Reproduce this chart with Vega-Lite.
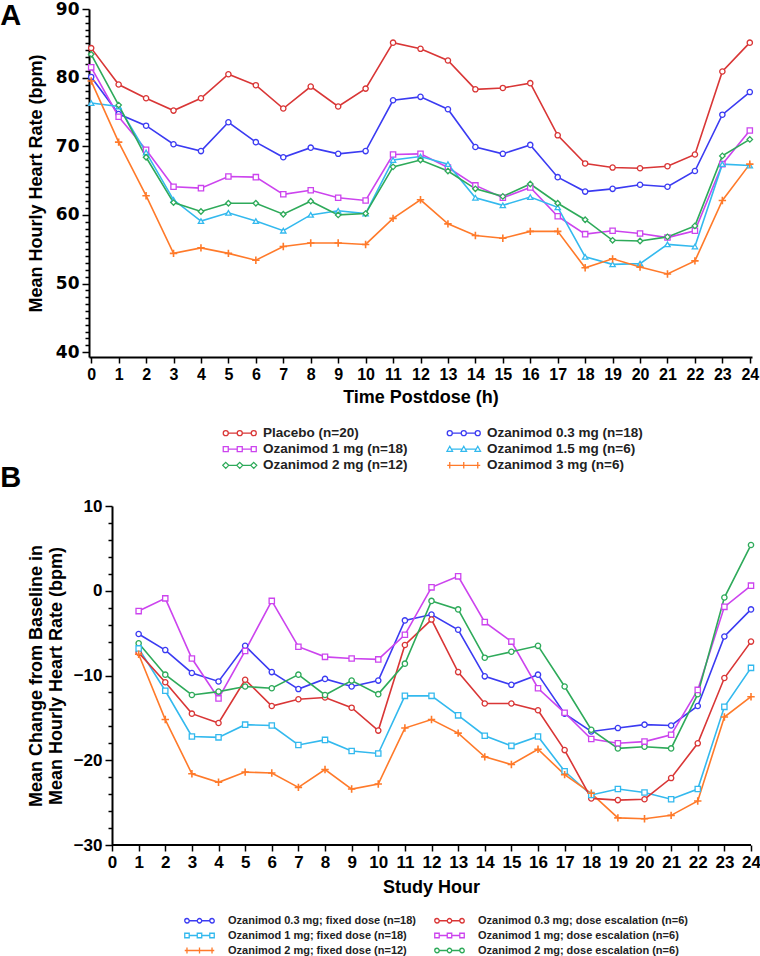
{
"$schema": "https://vega.github.io/schema/vega-lite/v6.json",
"padding": 0,
"background": "white",
"config": {"view": {"stroke": null}, "axis": {"grid": false, "domainColor": "black", "domainWidth": 2, "tickColor": "black", "tickWidth": 1.5, "labelColor": "black", "titleColor": "black", "labelFont": "Liberation Sans", "titleFont": "Liberation Sans", "labelFontWeight": "bold", "titleFontWeight": "bold"}},
"spacing": -8,
"resolve": {"scale": {"stroke": "independent", "x": "independent", "y": "independent"}, "legend": {"stroke": "independent"}},
"datasets": {
"a": [
{"s":"Placebo (n=20)","h":0,"v":84.3},{"s":"Placebo (n=20)","h":1,"v":79.0},{"s":"Placebo (n=20)","h":2,"v":77.0},{"s":"Placebo (n=20)","h":3,"v":75.2},{"s":"Placebo (n=20)","h":4,"v":77.0},{"s":"Placebo (n=20)","h":5,"v":80.5},{"s":"Placebo (n=20)","h":6,"v":78.9},{"s":"Placebo (n=20)","h":7,"v":75.5},{"s":"Placebo (n=20)","h":8,"v":78.7},{"s":"Placebo (n=20)","h":9,"v":75.8},{"s":"Placebo (n=20)","h":10,"v":78.4},{"s":"Placebo (n=20)","h":11,"v":85.1},{"s":"Placebo (n=20)","h":12,"v":84.2},{"s":"Placebo (n=20)","h":13,"v":82.5},{"s":"Placebo (n=20)","h":14,"v":78.3},{"s":"Placebo (n=20)","h":15,"v":78.5},{"s":"Placebo (n=20)","h":16,"v":79.2},{"s":"Placebo (n=20)","h":17,"v":71.6},{"s":"Placebo (n=20)","h":18,"v":67.5},{"s":"Placebo (n=20)","h":19,"v":66.9},{"s":"Placebo (n=20)","h":20,"v":66.8},{"s":"Placebo (n=20)","h":21,"v":67.1},{"s":"Placebo (n=20)","h":22,"v":68.8},{"s":"Placebo (n=20)","h":23,"v":80.9},{"s":"Placebo (n=20)","h":24,"v":85.1},
{"s":"Ozanimod 0.3 mg (n=18)","h":0,"v":80.1},{"s":"Ozanimod 0.3 mg (n=18)","h":1,"v":74.7},{"s":"Ozanimod 0.3 mg (n=18)","h":2,"v":73.0},{"s":"Ozanimod 0.3 mg (n=18)","h":3,"v":70.3},{"s":"Ozanimod 0.3 mg (n=18)","h":4,"v":69.3},{"s":"Ozanimod 0.3 mg (n=18)","h":5,"v":73.5},{"s":"Ozanimod 0.3 mg (n=18)","h":6,"v":70.6},{"s":"Ozanimod 0.3 mg (n=18)","h":7,"v":68.4},{"s":"Ozanimod 0.3 mg (n=18)","h":8,"v":69.8},{"s":"Ozanimod 0.3 mg (n=18)","h":9,"v":68.9},{"s":"Ozanimod 0.3 mg (n=18)","h":10,"v":69.3},{"s":"Ozanimod 0.3 mg (n=18)","h":11,"v":76.7},{"s":"Ozanimod 0.3 mg (n=18)","h":12,"v":77.2},{"s":"Ozanimod 0.3 mg (n=18)","h":13,"v":75.4},{"s":"Ozanimod 0.3 mg (n=18)","h":14,"v":69.9},{"s":"Ozanimod 0.3 mg (n=18)","h":15,"v":68.9},{"s":"Ozanimod 0.3 mg (n=18)","h":16,"v":70.2},{"s":"Ozanimod 0.3 mg (n=18)","h":17,"v":65.5},{"s":"Ozanimod 0.3 mg (n=18)","h":18,"v":63.4},{"s":"Ozanimod 0.3 mg (n=18)","h":19,"v":63.8},{"s":"Ozanimod 0.3 mg (n=18)","h":20,"v":64.4},{"s":"Ozanimod 0.3 mg (n=18)","h":21,"v":64.1},{"s":"Ozanimod 0.3 mg (n=18)","h":22,"v":66.4},{"s":"Ozanimod 0.3 mg (n=18)","h":23,"v":74.6},{"s":"Ozanimod 0.3 mg (n=18)","h":24,"v":77.9},
{"s":"Ozanimod 1 mg (n=18)","h":0,"v":81.5},{"s":"Ozanimod 1 mg (n=18)","h":1,"v":74.3},{"s":"Ozanimod 1 mg (n=18)","h":2,"v":69.5},{"s":"Ozanimod 1 mg (n=18)","h":3,"v":64.1},{"s":"Ozanimod 1 mg (n=18)","h":4,"v":63.9},{"s":"Ozanimod 1 mg (n=18)","h":5,"v":65.6},{"s":"Ozanimod 1 mg (n=18)","h":6,"v":65.5},{"s":"Ozanimod 1 mg (n=18)","h":7,"v":63.0},{"s":"Ozanimod 1 mg (n=18)","h":8,"v":63.6},{"s":"Ozanimod 1 mg (n=18)","h":9,"v":62.5},{"s":"Ozanimod 1 mg (n=18)","h":10,"v":62.1},{"s":"Ozanimod 1 mg (n=18)","h":11,"v":68.8},{"s":"Ozanimod 1 mg (n=18)","h":12,"v":68.9},{"s":"Ozanimod 1 mg (n=18)","h":13,"v":66.9},{"s":"Ozanimod 1 mg (n=18)","h":14,"v":64.3},{"s":"Ozanimod 1 mg (n=18)","h":15,"v":62.5},{"s":"Ozanimod 1 mg (n=18)","h":16,"v":64.0},{"s":"Ozanimod 1 mg (n=18)","h":17,"v":59.8},{"s":"Ozanimod 1 mg (n=18)","h":18,"v":57.2},{"s":"Ozanimod 1 mg (n=18)","h":19,"v":57.7},{"s":"Ozanimod 1 mg (n=18)","h":20,"v":57.3},{"s":"Ozanimod 1 mg (n=18)","h":21,"v":56.7},{"s":"Ozanimod 1 mg (n=18)","h":22,"v":57.7},{"s":"Ozanimod 1 mg (n=18)","h":23,"v":67.4},{"s":"Ozanimod 1 mg (n=18)","h":24,"v":72.3},
{"s":"Ozanimod 1.5 mg (n=6)","h":0,"v":76.3},{"s":"Ozanimod 1.5 mg (n=6)","h":1,"v":75.8},{"s":"Ozanimod 1.5 mg (n=6)","h":2,"v":69.1},{"s":"Ozanimod 1.5 mg (n=6)","h":3,"v":62.2},{"s":"Ozanimod 1.5 mg (n=6)","h":4,"v":59.1},{"s":"Ozanimod 1.5 mg (n=6)","h":5,"v":60.3},{"s":"Ozanimod 1.5 mg (n=6)","h":6,"v":59.1},{"s":"Ozanimod 1.5 mg (n=6)","h":7,"v":57.7},{"s":"Ozanimod 1.5 mg (n=6)","h":8,"v":60.0},{"s":"Ozanimod 1.5 mg (n=6)","h":9,"v":60.6},{"s":"Ozanimod 1.5 mg (n=6)","h":10,"v":60.2},{"s":"Ozanimod 1.5 mg (n=6)","h":11,"v":68.0},{"s":"Ozanimod 1.5 mg (n=6)","h":12,"v":68.5},{"s":"Ozanimod 1.5 mg (n=6)","h":13,"v":67.4},{"s":"Ozanimod 1.5 mg (n=6)","h":14,"v":62.5},{"s":"Ozanimod 1.5 mg (n=6)","h":15,"v":61.4},{"s":"Ozanimod 1.5 mg (n=6)","h":16,"v":62.6},{"s":"Ozanimod 1.5 mg (n=6)","h":17,"v":61.1},{"s":"Ozanimod 1.5 mg (n=6)","h":18,"v":53.9},{"s":"Ozanimod 1.5 mg (n=6)","h":19,"v":52.8},{"s":"Ozanimod 1.5 mg (n=6)","h":20,"v":52.9},{"s":"Ozanimod 1.5 mg (n=6)","h":21,"v":55.7},{"s":"Ozanimod 1.5 mg (n=6)","h":22,"v":55.4},{"s":"Ozanimod 1.5 mg (n=6)","h":23,"v":67.4},{"s":"Ozanimod 1.5 mg (n=6)","h":24,"v":67.2},
{"s":"Ozanimod 2 mg (n=12)","h":0,"v":83.4},{"s":"Ozanimod 2 mg (n=12)","h":1,"v":76.0},{"s":"Ozanimod 2 mg (n=12)","h":2,"v":68.4},{"s":"Ozanimod 2 mg (n=12)","h":3,"v":61.8},{"s":"Ozanimod 2 mg (n=12)","h":4,"v":60.5},{"s":"Ozanimod 2 mg (n=12)","h":5,"v":61.7},{"s":"Ozanimod 2 mg (n=12)","h":6,"v":61.7},{"s":"Ozanimod 2 mg (n=12)","h":7,"v":60.1},{"s":"Ozanimod 2 mg (n=12)","h":8,"v":62.0},{"s":"Ozanimod 2 mg (n=12)","h":9,"v":60.0},{"s":"Ozanimod 2 mg (n=12)","h":10,"v":60.2},{"s":"Ozanimod 2 mg (n=12)","h":11,"v":67.0},{"s":"Ozanimod 2 mg (n=12)","h":12,"v":68.0},{"s":"Ozanimod 2 mg (n=12)","h":13,"v":66.4},{"s":"Ozanimod 2 mg (n=12)","h":14,"v":63.8},{"s":"Ozanimod 2 mg (n=12)","h":15,"v":62.7},{"s":"Ozanimod 2 mg (n=12)","h":16,"v":64.5},{"s":"Ozanimod 2 mg (n=12)","h":17,"v":61.7},{"s":"Ozanimod 2 mg (n=12)","h":18,"v":59.3},{"s":"Ozanimod 2 mg (n=12)","h":19,"v":56.3},{"s":"Ozanimod 2 mg (n=12)","h":20,"v":56.2},{"s":"Ozanimod 2 mg (n=12)","h":21,"v":56.8},{"s":"Ozanimod 2 mg (n=12)","h":22,"v":58.4},{"s":"Ozanimod 2 mg (n=12)","h":23,"v":68.6},{"s":"Ozanimod 2 mg (n=12)","h":24,"v":71.0},
{"s":"Ozanimod 3 mg (n=6)","h":0,"v":79.5},{"s":"Ozanimod 3 mg (n=6)","h":1,"v":70.6},{"s":"Ozanimod 3 mg (n=6)","h":2,"v":62.8},{"s":"Ozanimod 3 mg (n=6)","h":3,"v":54.4},{"s":"Ozanimod 3 mg (n=6)","h":4,"v":55.2},{"s":"Ozanimod 3 mg (n=6)","h":5,"v":54.4},{"s":"Ozanimod 3 mg (n=6)","h":6,"v":53.4},{"s":"Ozanimod 3 mg (n=6)","h":7,"v":55.4},{"s":"Ozanimod 3 mg (n=6)","h":8,"v":55.9},{"s":"Ozanimod 3 mg (n=6)","h":9,"v":55.9},{"s":"Ozanimod 3 mg (n=6)","h":10,"v":55.7},{"s":"Ozanimod 3 mg (n=6)","h":11,"v":59.5},{"s":"Ozanimod 3 mg (n=6)","h":12,"v":62.2},{"s":"Ozanimod 3 mg (n=6)","h":13,"v":58.7},{"s":"Ozanimod 3 mg (n=6)","h":14,"v":57.0},{"s":"Ozanimod 3 mg (n=6)","h":15,"v":56.6},{"s":"Ozanimod 3 mg (n=6)","h":16,"v":57.6},{"s":"Ozanimod 3 mg (n=6)","h":17,"v":57.6},{"s":"Ozanimod 3 mg (n=6)","h":18,"v":52.3},{"s":"Ozanimod 3 mg (n=6)","h":19,"v":53.6},{"s":"Ozanimod 3 mg (n=6)","h":20,"v":52.4},{"s":"Ozanimod 3 mg (n=6)","h":21,"v":51.4},{"s":"Ozanimod 3 mg (n=6)","h":22,"v":53.3},{"s":"Ozanimod 3 mg (n=6)","h":23,"v":62.1},{"s":"Ozanimod 3 mg (n=6)","h":24,"v":67.4}
],
"b": [
{"s":"Ozanimod 0.3 mg; fixed dose (n=18)","h":1,"v":-5.1},{"s":"Ozanimod 0.3 mg; fixed dose (n=18)","h":2,"v":-7.0},{"s":"Ozanimod 0.3 mg; fixed dose (n=18)","h":3,"v":-9.7},{"s":"Ozanimod 0.3 mg; fixed dose (n=18)","h":4,"v":-10.7},{"s":"Ozanimod 0.3 mg; fixed dose (n=18)","h":5,"v":-6.5},{"s":"Ozanimod 0.3 mg; fixed dose (n=18)","h":6,"v":-9.6},{"s":"Ozanimod 0.3 mg; fixed dose (n=18)","h":7,"v":-11.6},{"s":"Ozanimod 0.3 mg; fixed dose (n=18)","h":8,"v":-10.4},{"s":"Ozanimod 0.3 mg; fixed dose (n=18)","h":9,"v":-11.3},{"s":"Ozanimod 0.3 mg; fixed dose (n=18)","h":10,"v":-10.6},{"s":"Ozanimod 0.3 mg; fixed dose (n=18)","h":11,"v":-3.5},{"s":"Ozanimod 0.3 mg; fixed dose (n=18)","h":12,"v":-2.8},{"s":"Ozanimod 0.3 mg; fixed dose (n=18)","h":13,"v":-4.6},{"s":"Ozanimod 0.3 mg; fixed dose (n=18)","h":14,"v":-10.1},{"s":"Ozanimod 0.3 mg; fixed dose (n=18)","h":15,"v":-11.1},{"s":"Ozanimod 0.3 mg; fixed dose (n=18)","h":16,"v":-9.9},{"s":"Ozanimod 0.3 mg; fixed dose (n=18)","h":17,"v":-14.5},{"s":"Ozanimod 0.3 mg; fixed dose (n=18)","h":18,"v":-16.6},{"s":"Ozanimod 0.3 mg; fixed dose (n=18)","h":19,"v":-16.2},{"s":"Ozanimod 0.3 mg; fixed dose (n=18)","h":20,"v":-15.8},{"s":"Ozanimod 0.3 mg; fixed dose (n=18)","h":21,"v":-15.9},{"s":"Ozanimod 0.3 mg; fixed dose (n=18)","h":22,"v":-13.6},{"s":"Ozanimod 0.3 mg; fixed dose (n=18)","h":23,"v":-5.4},{"s":"Ozanimod 0.3 mg; fixed dose (n=18)","h":24,"v":-2.2},
{"s":"Ozanimod 1 mg; fixed dose (n=18)","h":1,"v":-6.8},{"s":"Ozanimod 1 mg; fixed dose (n=18)","h":2,"v":-11.8},{"s":"Ozanimod 1 mg; fixed dose (n=18)","h":3,"v":-17.2},{"s":"Ozanimod 1 mg; fixed dose (n=18)","h":4,"v":-17.3},{"s":"Ozanimod 1 mg; fixed dose (n=18)","h":5,"v":-15.8},{"s":"Ozanimod 1 mg; fixed dose (n=18)","h":6,"v":-15.9},{"s":"Ozanimod 1 mg; fixed dose (n=18)","h":7,"v":-18.2},{"s":"Ozanimod 1 mg; fixed dose (n=18)","h":8,"v":-17.6},{"s":"Ozanimod 1 mg; fixed dose (n=18)","h":9,"v":-18.9},{"s":"Ozanimod 1 mg; fixed dose (n=18)","h":10,"v":-19.2},{"s":"Ozanimod 1 mg; fixed dose (n=18)","h":11,"v":-12.4},{"s":"Ozanimod 1 mg; fixed dose (n=18)","h":12,"v":-12.4},{"s":"Ozanimod 1 mg; fixed dose (n=18)","h":13,"v":-14.7},{"s":"Ozanimod 1 mg; fixed dose (n=18)","h":14,"v":-17.1},{"s":"Ozanimod 1 mg; fixed dose (n=18)","h":15,"v":-18.3},{"s":"Ozanimod 1 mg; fixed dose (n=18)","h":16,"v":-17.2},{"s":"Ozanimod 1 mg; fixed dose (n=18)","h":17,"v":-21.3},{"s":"Ozanimod 1 mg; fixed dose (n=18)","h":18,"v":-24.1},{"s":"Ozanimod 1 mg; fixed dose (n=18)","h":19,"v":-23.4},{"s":"Ozanimod 1 mg; fixed dose (n=18)","h":20,"v":-23.8},{"s":"Ozanimod 1 mg; fixed dose (n=18)","h":21,"v":-24.6},{"s":"Ozanimod 1 mg; fixed dose (n=18)","h":22,"v":-23.4},{"s":"Ozanimod 1 mg; fixed dose (n=18)","h":23,"v":-13.7},{"s":"Ozanimod 1 mg; fixed dose (n=18)","h":24,"v":-9.1},
{"s":"Ozanimod 2 mg; fixed dose (n=12)","h":1,"v":-7.5},{"s":"Ozanimod 2 mg; fixed dose (n=12)","h":2,"v":-15.2},{"s":"Ozanimod 2 mg; fixed dose (n=12)","h":3,"v":-21.6},{"s":"Ozanimod 2 mg; fixed dose (n=12)","h":4,"v":-22.6},{"s":"Ozanimod 2 mg; fixed dose (n=12)","h":5,"v":-21.4},{"s":"Ozanimod 2 mg; fixed dose (n=12)","h":6,"v":-21.5},{"s":"Ozanimod 2 mg; fixed dose (n=12)","h":7,"v":-23.2},{"s":"Ozanimod 2 mg; fixed dose (n=12)","h":8,"v":-21.1},{"s":"Ozanimod 2 mg; fixed dose (n=12)","h":9,"v":-23.4},{"s":"Ozanimod 2 mg; fixed dose (n=12)","h":10,"v":-22.8},{"s":"Ozanimod 2 mg; fixed dose (n=12)","h":11,"v":-16.2},{"s":"Ozanimod 2 mg; fixed dose (n=12)","h":12,"v":-15.2},{"s":"Ozanimod 2 mg; fixed dose (n=12)","h":13,"v":-16.8},{"s":"Ozanimod 2 mg; fixed dose (n=12)","h":14,"v":-19.6},{"s":"Ozanimod 2 mg; fixed dose (n=12)","h":15,"v":-20.5},{"s":"Ozanimod 2 mg; fixed dose (n=12)","h":16,"v":-18.7},{"s":"Ozanimod 2 mg; fixed dose (n=12)","h":17,"v":-21.7},{"s":"Ozanimod 2 mg; fixed dose (n=12)","h":18,"v":-23.9},{"s":"Ozanimod 2 mg; fixed dose (n=12)","h":19,"v":-26.8},{"s":"Ozanimod 2 mg; fixed dose (n=12)","h":20,"v":-26.9},{"s":"Ozanimod 2 mg; fixed dose (n=12)","h":21,"v":-26.5},{"s":"Ozanimod 2 mg; fixed dose (n=12)","h":22,"v":-24.8},{"s":"Ozanimod 2 mg; fixed dose (n=12)","h":23,"v":-14.9},{"s":"Ozanimod 2 mg; fixed dose (n=12)","h":24,"v":-12.5},
{"s":"Ozanimod 0.3 mg; dose escalation (n=6)","h":1,"v":-7.3},{"s":"Ozanimod 0.3 mg; dose escalation (n=6)","h":2,"v":-10.8},{"s":"Ozanimod 0.3 mg; dose escalation (n=6)","h":3,"v":-14.5},{"s":"Ozanimod 0.3 mg; dose escalation (n=6)","h":4,"v":-15.6},{"s":"Ozanimod 0.3 mg; dose escalation (n=6)","h":5,"v":-10.5},{"s":"Ozanimod 0.3 mg; dose escalation (n=6)","h":6,"v":-13.6},{"s":"Ozanimod 0.3 mg; dose escalation (n=6)","h":7,"v":-12.8},{"s":"Ozanimod 0.3 mg; dose escalation (n=6)","h":8,"v":-12.6},{"s":"Ozanimod 0.3 mg; dose escalation (n=6)","h":9,"v":-13.8},{"s":"Ozanimod 0.3 mg; dose escalation (n=6)","h":10,"v":-16.5},{"s":"Ozanimod 0.3 mg; dose escalation (n=6)","h":11,"v":-6.4},{"s":"Ozanimod 0.3 mg; dose escalation (n=6)","h":12,"v":-3.4},{"s":"Ozanimod 0.3 mg; dose escalation (n=6)","h":13,"v":-9.6},{"s":"Ozanimod 0.3 mg; dose escalation (n=6)","h":14,"v":-13.3},{"s":"Ozanimod 0.3 mg; dose escalation (n=6)","h":15,"v":-13.3},{"s":"Ozanimod 0.3 mg; dose escalation (n=6)","h":16,"v":-14.1},{"s":"Ozanimod 0.3 mg; dose escalation (n=6)","h":17,"v":-18.8},{"s":"Ozanimod 0.3 mg; dose escalation (n=6)","h":18,"v":-24.5},{"s":"Ozanimod 0.3 mg; dose escalation (n=6)","h":19,"v":-24.7},{"s":"Ozanimod 0.3 mg; dose escalation (n=6)","h":20,"v":-24.6},{"s":"Ozanimod 0.3 mg; dose escalation (n=6)","h":21,"v":-22.1},{"s":"Ozanimod 0.3 mg; dose escalation (n=6)","h":22,"v":-18.0},{"s":"Ozanimod 0.3 mg; dose escalation (n=6)","h":23,"v":-10.3},{"s":"Ozanimod 0.3 mg; dose escalation (n=6)","h":24,"v":-6.0},
{"s":"Ozanimod 1 mg; dose escalation (n=6)","h":1,"v":-2.4},{"s":"Ozanimod 1 mg; dose escalation (n=6)","h":2,"v":-0.9},{"s":"Ozanimod 1 mg; dose escalation (n=6)","h":3,"v":-8.0},{"s":"Ozanimod 1 mg; dose escalation (n=6)","h":4,"v":-12.7},{"s":"Ozanimod 1 mg; dose escalation (n=6)","h":5,"v":-7.1},{"s":"Ozanimod 1 mg; dose escalation (n=6)","h":6,"v":-1.2},{"s":"Ozanimod 1 mg; dose escalation (n=6)","h":7,"v":-6.6},{"s":"Ozanimod 1 mg; dose escalation (n=6)","h":8,"v":-7.8},{"s":"Ozanimod 1 mg; dose escalation (n=6)","h":9,"v":-8.0},{"s":"Ozanimod 1 mg; dose escalation (n=6)","h":10,"v":-8.1},{"s":"Ozanimod 1 mg; dose escalation (n=6)","h":11,"v":-5.2},{"s":"Ozanimod 1 mg; dose escalation (n=6)","h":12,"v":0.4},{"s":"Ozanimod 1 mg; dose escalation (n=6)","h":13,"v":1.7},{"s":"Ozanimod 1 mg; dose escalation (n=6)","h":14,"v":-3.7},{"s":"Ozanimod 1 mg; dose escalation (n=6)","h":15,"v":-6.0},{"s":"Ozanimod 1 mg; dose escalation (n=6)","h":16,"v":-11.5},{"s":"Ozanimod 1 mg; dose escalation (n=6)","h":17,"v":-14.4},{"s":"Ozanimod 1 mg; dose escalation (n=6)","h":18,"v":-17.5},{"s":"Ozanimod 1 mg; dose escalation (n=6)","h":19,"v":-18.0},{"s":"Ozanimod 1 mg; dose escalation (n=6)","h":20,"v":-17.8},{"s":"Ozanimod 1 mg; dose escalation (n=6)","h":21,"v":-17.0},{"s":"Ozanimod 1 mg; dose escalation (n=6)","h":22,"v":-11.7},{"s":"Ozanimod 1 mg; dose escalation (n=6)","h":23,"v":-1.9},{"s":"Ozanimod 1 mg; dose escalation (n=6)","h":24,"v":0.6},
{"s":"Ozanimod 2 mg; dose escalation (n=6)","h":1,"v":-6.2},{"s":"Ozanimod 2 mg; dose escalation (n=6)","h":2,"v":-9.9},{"s":"Ozanimod 2 mg; dose escalation (n=6)","h":3,"v":-12.3},{"s":"Ozanimod 2 mg; dose escalation (n=6)","h":4,"v":-11.9},{"s":"Ozanimod 2 mg; dose escalation (n=6)","h":5,"v":-11.3},{"s":"Ozanimod 2 mg; dose escalation (n=6)","h":6,"v":-11.5},{"s":"Ozanimod 2 mg; dose escalation (n=6)","h":7,"v":-9.9},{"s":"Ozanimod 2 mg; dose escalation (n=6)","h":8,"v":-12.3},{"s":"Ozanimod 2 mg; dose escalation (n=6)","h":9,"v":-10.6},{"s":"Ozanimod 2 mg; dose escalation (n=6)","h":10,"v":-12.2},{"s":"Ozanimod 2 mg; dose escalation (n=6)","h":11,"v":-8.6},{"s":"Ozanimod 2 mg; dose escalation (n=6)","h":12,"v":-1.2},{"s":"Ozanimod 2 mg; dose escalation (n=6)","h":13,"v":-2.2},{"s":"Ozanimod 2 mg; dose escalation (n=6)","h":14,"v":-7.9},{"s":"Ozanimod 2 mg; dose escalation (n=6)","h":15,"v":-7.2},{"s":"Ozanimod 2 mg; dose escalation (n=6)","h":16,"v":-6.5},{"s":"Ozanimod 2 mg; dose escalation (n=6)","h":17,"v":-11.3},{"s":"Ozanimod 2 mg; dose escalation (n=6)","h":18,"v":-16.4},{"s":"Ozanimod 2 mg; dose escalation (n=6)","h":19,"v":-18.6},{"s":"Ozanimod 2 mg; dose escalation (n=6)","h":20,"v":-18.4},{"s":"Ozanimod 2 mg; dose escalation (n=6)","h":21,"v":-18.6},{"s":"Ozanimod 2 mg; dose escalation (n=6)","h":22,"v":-12.2},{"s":"Ozanimod 2 mg; dose escalation (n=6)","h":23,"v":-0.8},{"s":"Ozanimod 2 mg; dose escalation (n=6)","h":24,"v":5.4}
]
},
"vconcat": [
{
"width": 663, "height": 348,
"title": {"text": "A", "anchor": "start", "frame": "bounds", "font": "Liberation Sans", "fontSize": 29, "fontWeight": "bold", "color": "black", "offset": -31, "dx": -27},
"data": {"name": "a"},
"encoding": {
"x": {"field": "h", "type": "quantitative", "scale": {"domain": [-0.08, 24.08], "nice": false, "zero": false},
 "axis": {"title": "Time Postdose (h)", "values": [0,1,2,3,4,5,6,7,8,9,10,11,12,13,14,15,16,17,18,19,20,21,22,23,24], "tickSize": 6, "labelFontSize": 16, "labelPadding": 3, "titleFontSize": 18, "titlePadding": 6, "labelFlush": false, "labelOverlap": false}},
"y": {"field": "v", "type": "quantitative", "scale": {"domain": [39.3, 90], "nice": false, "zero": false},
 "axis": {"title": "Mean Hourly  Heart Rate (bpm)", "values": [40,41,42,43,44,45,46,47,48,49,50,51,52,53,54,55,56,57,58,59,60,61,62,63,64,65,66,67,68,69,70,71,72,73,74,75,76,77,78,79,80,81,82,83,84,85,86,87,88,89,90],
  "labelExpr": "datum.value % 10 === 0 ? datum.label : ''", "labelOverlap": false, "labelFlush": false,
  "tickSize": {"condition": {"test": "datum.value % 10 === 0", "value": 7}, "value": 4},
  "labelFont": "DejaVu Sans", "labelFontSize": 17, "labelPadding": 3, "titleFontSize": 18, "titlePadding": 10}}
},
"layer": [
{"mark": {"type": "line", "strokeWidth": 1.6},
 "encoding": {"stroke": {"field": "s", "type": "nominal",
  "scale": {"domain": ["Placebo (n=20)", "Ozanimod 0.3 mg (n=18)", "Ozanimod 1 mg (n=18)", "Ozanimod 1.5 mg (n=6)", "Ozanimod 2 mg (n=12)", "Ozanimod 3 mg (n=6)"], "range": ["#d93636", "#3b3bf2", "#cc44ee", "#33b9ee", "#2eaa5a", "#ff7a2a"]},
  "legend": {"orient": "none", "legendX": 144, "legendY": 417, "title": null, "columns": 2, "direction": "horizontal", "columnPadding": 36, "rowPadding": 1.3, "labelLimit": 0,
   "labelFont": "Liberation Sans", "labelFontSize": 13.5, "labelFontWeight": "bold", "labelColor": "#222222", "labelOffset": 16.5, "symbolSize": 25, "symbolStrokeWidth": 1.3, "symbolFillColor": "white",
   "encode": {"symbols": {"update": {"shape": {"signal": "indexof(datum.value,'0.3')>=0 ? 'M-6.6,0a1,1 0 1,0 2,0a1,1 0 1,0 -2,0M-1,0a1,1 0 1,0 2,0a1,1 0 1,0 -2,0M4.6,0a1,1 0 1,0 2,0a1,1 0 1,0 -2,0M-4.6,0L-1,0M1,0L4.6,0' : indexof(datum.value,'1.5')>=0 ? 'M-5.6,-1.1L-4.5,0.9L-6.7,0.9ZM0,-1.1L1.1,0.9L-1.1,0.9ZM5.6,-1.1L6.7,0.9L4.5,0.9ZM-4.9,0L-0.6,0M0.6,0L4.9,0' : indexof(datum.value,' 3 mg')>=0 ? 'M-6.6,0L6.6,0M-5.6,-1.3L-5.6,1.3M0,-1.3L0,1.3M5.6,-1.3L5.6,1.3' : indexof(datum.value,' 1 mg')>=0 ? 'M-6.6,-1h2v2h-2zM-1,-1h2v2h-2zM4.6,-1h2v2h-2zM-4.6,0L-1,0M1,0L4.6,0' : indexof(datum.value,' 2 mg')>=0 ? 'M-5.6,-1.2L-4.4,0L-5.6,1.2L-6.8,0ZM0,-1.2L1.2,0L0,1.2L-1.2,0ZM5.6,-1.2L6.8,0L5.6,1.2L4.4,0ZM-4.4,0L-1.2,0M1.2,0L4.4,0' : 'M-6.6,0a1,1 0 1,0 2,0a1,1 0 1,0 -2,0M-1,0a1,1 0 1,0 2,0a1,1 0 1,0 -2,0M4.6,0a1,1 0 1,0 2,0a1,1 0 1,0 -2,0M-4.6,0L-1,0M1,0L4.6,0'"},
     "size": {"value": 25}, "strokeWidth": {"value": 1.3}, "fill": {"value": "white"}, "opacity": {"value": 1}}}}
  }}}},
{"transform": [{"filter": {"field": "s", "oneOf": ["Placebo (n=20)", "Ozanimod 0.3 mg (n=18)"]}}],
 "mark": {"type": "point", "shape": "circle", "filled": true, "fill": "white", "size": 28, "strokeWidth": 1.3, "opacity": 1},
 "encoding": {"stroke": {"field": "s", "type": "nominal"}}},
{"transform": [{"filter": {"field": "s", "equal": "Ozanimod 1 mg (n=18)"}}],
 "mark": {"type": "point", "shape": "square", "filled": true, "fill": "white", "size": 28, "strokeWidth": 1.3, "opacity": 1},
 "encoding": {"stroke": {"field": "s", "type": "nominal"}}},
{"transform": [{"filter": {"field": "s", "equal": "Ozanimod 1.5 mg (n=6)"}}],
 "mark": {"type": "point", "shape": "triangle-up", "filled": true, "fill": "white", "size": 28, "strokeWidth": 1.3, "opacity": 1},
 "encoding": {"stroke": {"field": "s", "type": "nominal"}}},
{"transform": [{"filter": {"field": "s", "equal": "Ozanimod 2 mg (n=12)"}}],
 "mark": {"type": "point", "shape": "diamond", "filled": true, "fill": "white", "size": 30, "strokeWidth": 1.3, "opacity": 1},
 "encoding": {"stroke": {"field": "s", "type": "nominal"}}},
{"transform": [{"filter": {"field": "s", "equal": "Ozanimod 3 mg (n=6)"}}],
 "mark": {"type": "point", "shape": "M-1.4,0L1.4,0M0,-1.4L0,1.4", "filled": false, "size": 28, "strokeWidth": 1.6, "opacity": 1},
 "encoding": {"stroke": {"field": "s", "type": "nominal"}}}
]
},
{
"width": 662, "height": 339,
"title": {"text": "B", "anchor": "start", "frame": "bounds", "font": "Liberation Sans", "fontSize": 29, "fontWeight": "bold", "color": "black", "offset": 4, "dx": -27},
"data": {"name": "b"},
"encoding": {
"x": {"field": "h", "type": "quantitative", "scale": {"domain": [-0.865, 24], "nice": false, "zero": false},
 "axis": {"title": "Study Hour", "domain": false, "values": [0,1,2,3,4,5,6,7,8,9,10,11,12,13,14,15,16,17,18,19,20,21,22,23,24], "tickSize": 6, "labelFontSize": 17, "labelPadding": 3, "titleFontSize": 18, "titlePadding": 8, "titleX": 342, "labelFlush": false, "labelOverlap": false}},
"y": {"field": "v", "type": "quantitative", "scale": {"domain": [-30, 10], "nice": false, "zero": false},
 "axis": {"title": ["Mean Change from Baseline in", "Mean Hourly Heart Rate (bpm)"], "offset": -23, "values": [-30,-28,-26,-24,-22,-20,-18,-16,-14,-12,-10,-8,-6,-4,-2,0,2,4,6,8,10],
  "labelExpr": "datum.value % 10 === 0 ? datum.label : ''", "labelOverlap": false, "labelFlush": false,
  "tickSize": {"condition": {"test": "datum.value % 10 === 0", "value": 7}, "value": 4},
  "labelFontSize": 17, "labelPadding": 3, "titleFontSize": 18, "titleLineHeight": 20, "titlePadding": 8}}
},
"layer": [
{"mark": {"type": "rule", "color": "black", "strokeWidth": 2},
 "encoding": {"x": {"datum": 0}, "x2": {"datum": 24}, "y": {"datum": -30}}},
{"mark": {"type": "line", "strokeWidth": 1.6},
 "encoding": {"stroke": {"field": "s", "type": "nominal",
  "scale": {"domain": ["Ozanimod 0.3 mg; fixed dose (n=18)", "Ozanimod 0.3 mg; dose escalation (n=6)", "Ozanimod 1 mg; fixed dose (n=18)", "Ozanimod 1 mg; dose escalation (n=6)", "Ozanimod 2 mg; fixed dose (n=12)", "Ozanimod 2 mg; dose escalation (n=6)"], "range": ["#3b3bf2", "#d93636", "#33b9ee", "#cc44ee", "#ff7a2a", "#2eaa5a"]},
  "legend": {"orient": "none", "legendX": 105, "legendY": 409, "title": null, "columns": 2, "direction": "horizontal", "columnPadding": 16, "rowPadding": 3, "labelLimit": 0,
   "labelFont": "Liberation Sans", "labelFontSize": 11, "labelFontWeight": "bold", "labelColor": "#222222", "labelOffset": 23, "symbolSize": 20, "symbolStrokeWidth": 1.3, "symbolFillColor": "white",
   "encode": {"symbols": {"update": {
     "shape": {"signal": "indexof(datum.value,'2 mg; fixed')>=0 ? 'M-6.6,0L6.6,0M-5.6,-1.3L-5.6,1.3M0,-1.3L0,1.3M5.6,-1.3L5.6,1.3' : indexof(datum.value,' 1 mg')>=0 ? 'M-6.6,-1h2v2h-2zM-1,-1h2v2h-2zM4.6,-1h2v2h-2zM-4.6,0L-1,0M1,0L4.6,0' : 'M-6.6,0a1,1 0 1,0 2,0a1,1 0 1,0 -2,0M-1,0a1,1 0 1,0 2,0a1,1 0 1,0 -2,0M4.6,0a1,1 0 1,0 2,0a1,1 0 1,0 -2,0M-4.6,0L-1,0M1,0L4.6,0'"},
     "size": {"value": 20}, "strokeWidth": {"value": 1.3}, "fill": {"value": "white"}, "opacity": {"value": 1}}}}
  }}}},
{"transform": [{"filter": {"field": "s", "oneOf": ["Ozanimod 0.3 mg; fixed dose (n=18)", "Ozanimod 0.3 mg; dose escalation (n=6)", "Ozanimod 2 mg; dose escalation (n=6)"]}}],
 "mark": {"type": "point", "shape": "circle", "filled": true, "fill": "white", "size": 28, "strokeWidth": 1.3, "opacity": 1},
 "encoding": {"stroke": {"field": "s", "type": "nominal"}}},
{"transform": [{"filter": {"field": "s", "oneOf": ["Ozanimod 1 mg; fixed dose (n=18)", "Ozanimod 1 mg; dose escalation (n=6)"]}}],
 "mark": {"type": "point", "shape": "square", "filled": true, "fill": "white", "size": 28, "strokeWidth": 1.3, "opacity": 1},
 "encoding": {"stroke": {"field": "s", "type": "nominal"}}},
{"transform": [{"filter": {"field": "s", "equal": "Ozanimod 2 mg; fixed dose (n=12)"}}],
 "mark": {"type": "point", "shape": "M-1.4,0L1.4,0M0,-1.4L0,1.4", "filled": false, "size": 28, "strokeWidth": 1.6, "opacity": 1},
 "encoding": {"stroke": {"field": "s", "type": "nominal"}}}
]
}
]
}
